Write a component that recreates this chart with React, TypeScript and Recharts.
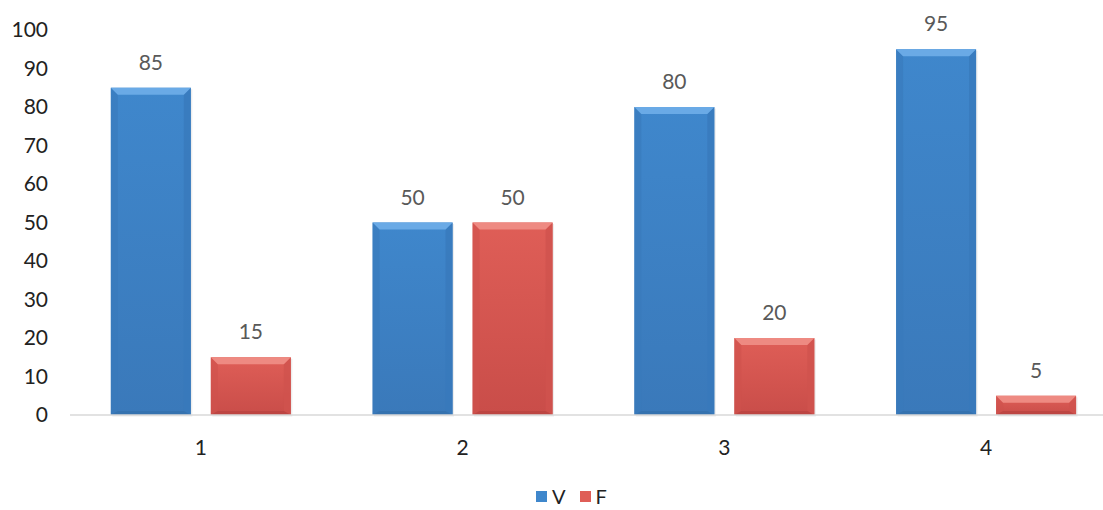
import { Bar, BarChart, LabelList, Legend, XAxis, YAxis } from "recharts";

const categories = ["1", "2", "3", "4"];
const vValues = [85, 50, 80, 95];
const fValues = [15, 50, 20, 5];
const yTicks = [0, 10, 20, 30, 40, 50, 60, 70, 80, 90, 100];

type Palette = {
  top: string;
  base: string;
  dark: string;
  edge: string;
  bottom: string;
};

const palettes: Record<string, Palette> = {
  V: {
    top: "#6aaae6",
    base: "#3f87cc",
    dark: "#3a79ba",
    edge: "#3879bb",
    bottom: "#3470ad",
  },
  F: {
    top: "#ee8a82",
    base: "#df5e57",
    dark: "#c94d49",
    edge: "#cf524d",
    bottom: "#b94441",
  },
};

const data = categories.map((name, i) => ({
  name,
  V: vValues[i],
  F: fValues[i],
}));

const font = "Lato, 'Open Sans', sans-serif";

function BevelBar(props: any) {
  const { x, y, width, height, dataKey } = props;
  if (!height || height <= 0) return null;
  const p = palettes[dataKey as string];
  const b = Math.min(7, height / 2, width / 2);
  const bb = Math.min(4, height / 2);
  const gid = `grad-${dataKey}`;
  return (
    <g>
      <defs>
        <linearGradient id={gid} x1="0" y1="0" x2="0" y2="1">
          <stop offset="0%" stopColor={p.base} />
          <stop offset="100%" stopColor={p.dark} />
        </linearGradient>
      </defs>
      <rect x={x + 1.5} y={y + 1.5} width={width} height={height} fill="#000" opacity={0.07} />
      <rect x={x} y={y} width={width} height={height} fill={`url(#${gid})`} />
      <polygon
        points={`${x},${y} ${x + b},${y + b} ${x + b},${y + height - bb} ${x},${y + height}`}
        fill={p.edge}
        opacity={0.6}
      />
      <polygon
        points={`${x + width},${y} ${x + width - b},${y + b} ${x + width - b},${y + height - bb} ${x + width},${y + height}`}
        fill={p.edge}
        opacity={0.8}
      />
      <polygon
        points={`${x},${y + height} ${x + b},${y + height - bb} ${x + width - b},${y + height - bb} ${x + width},${y + height}`}
        fill={p.bottom}
        opacity={0.8}
      />
      <polygon
        points={`${x},${y} ${x + width},${y} ${x + width - b},${y + b} ${x + b},${y + b}`}
        fill={p.top}
      />
    </g>
  );
}

function LegendContent() {
  const items = [
    { key: "V", color: palettes.V.base },
    { key: "F", color: palettes.F.base },
  ];
  return (
    <div
      style={{
        display: "flex",
        justifyContent: "center",
        alignItems: "center",
        height: 24,
        lineHeight: "24px",
        paddingLeft: 40,
        fontFamily: font,
        fontSize: 20,
        color: "#222",
      }}
    >
      {items.map((it) => (
        <span key={it.key} style={{ display: "flex", alignItems: "center", marginRight: 14 }}>
          <span
            style={{
              width: 11,
              height: 11,
              background: it.color,
              marginRight: 5,
              display: "inline-block",
            }}
          />
          {it.key}
        </span>
      ))}
    </div>
  );
}

export default function App() {
  return (
    <div
      style={{
        position: "fixed",
        left: 0,
        top: 0,
        width: 1103,
        height: 510,
        overflow: "hidden",
        background: "#fff",
      }}
    >
      <BarChart
        width={1120}
        height={510}
        data={data}
        margin={{ top: 30, right: 3, left: 0, bottom: 2 }}
        barGap={20}
        barCategoryGap="15.6%"
      >
        <XAxis
          dataKey="name"
          height={69}
          tickLine={false}
          axisLine={{ stroke: "#d9d9d9", strokeWidth: 1.5 }}
          tickMargin={19}
          tick={{ fill: "#222", fontSize: 21, fontFamily: font }}
        />
        <YAxis
          width={70}
          domain={[0, 100]}
          ticks={yTicks}
          interval={0}
          axisLine={false}
          tickLine={false}
          tickMargin={16}
          tick={{ fill: "#222", fontSize: 21, fontFamily: font }}
        />
        <Legend verticalAlign="bottom" height={24} content={<LegendContent />} />
        <Bar dataKey="V" isAnimationActive={false} shape={<BevelBar dataKey="V" />}>
          <LabelList
            dataKey="V"
            position="top"
            offset={18}
            fill="#595959"
            fontSize={21}
            fontFamily={font}
          />
        </Bar>
        <Bar dataKey="F" isAnimationActive={false} shape={<BevelBar dataKey="F" />}>
          <LabelList
            dataKey="F"
            position="top"
            offset={18}
            fill="#595959"
            fontSize={21}
            fontFamily={font}
          />
        </Bar>
      </BarChart>
    </div>
  );
}
